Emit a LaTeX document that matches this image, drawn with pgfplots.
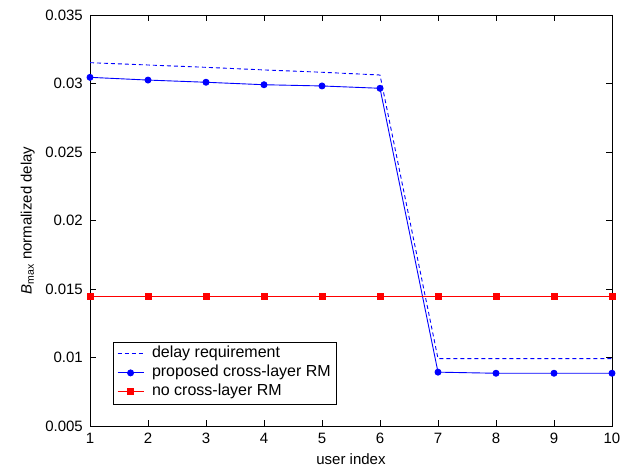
\documentclass[border=0pt]{standalone}
\usepackage{fontspec}
\setmainfont{Liberation Sans}
\usepackage{pgfplots}
\pgfplotsset{compat=1.18}
\definecolor{mblue}{RGB}{0,0,255}
\definecolor{mred}{RGB}{255,0,0}
\begin{document}
\begin{tikzpicture}[font=\fontsize{15}{18}\selectfont]
\begin{axis}[name=ax, scale only axis, width=522pt, height=411pt,
  xmin=1, xmax=10, ymin=0.005, ymax=0.035,
  xtick={1,2,3,4,5,6,7,8,9,10},
  ytick={0.005,0.01,0.015,0.02,0.025,0.03,0.035},
  yticklabels={0.005,0.01,0.015,0.02,0.025,0.03,0.035},
  scaled y ticks=false,
  /pgf/number format/assume math mode=true,
  tick label style={font=\fontsize{15}{18}\selectfont},
  xticklabel style={inner sep=0pt, yshift=-7pt},
  yticklabel style={inner sep=0pt, xshift=-7pt},
  tick align=inside, major tick length=6pt,
  tick style={black, line width=0.7pt},
  axis line style={black, line width=0.8pt},
  xlabel={user index},
  xlabel style={at={(axis description cs:0.5,-0.0665)}, anchor=north, inner sep=0pt},
  ylabel={{\itshape B}\textsubscript{max} normalized delay},
  ylabel style={at={(axis description cs:-0.1054,0.5)}, anchor=south, inner sep=0pt},
  legend style={at={(0.0435,0.0528)}, anchor=south west, draw=black, line width=0.8pt,
    fill=white, inner xsep=4pt, inner ysep=3pt,
    font=\fontsize{16}{19}\selectfont,
    nodes={inner sep=2pt, text height=11pt, text depth=3pt}, row sep=1pt, column sep=6pt},
  legend cell align=left,
  legend image code/.code={\draw[mark repeat=2,mark phase=2,#1] plot coordinates {(0pt,0pt) (13pt,0pt) (26pt,0pt)};},
]
\addplot[mblue, line width=0.9pt, dash pattern=on 4pt off 3pt] coordinates {
(1,0.03152) (2,0.03135) (3,0.03118) (4,0.03099) (5,0.03082) (6,0.03062)
(7,0.00992) (8,0.00992) (9,0.00992) (10,0.00992)};
\addlegendentry{delay requirement}
\addplot[mblue, line width=0.9pt, mark=*, mark size=3pt, mark options={solid, fill=mblue}] coordinates {
(1,0.03045) (2,0.03025) (3,0.03009) (4,0.02991) (5,0.02982) (6,0.02965)
(7,0.00893) (8,0.00885) (9,0.00885) (10,0.00885)};
\addlegendentry{proposed cross-layer RM}
\addplot[mred, line width=0.9pt, mark=square*, mark size=3pt, mark options={solid, fill=mred}] coordinates {
(1,0.01447) (2,0.01447) (3,0.01447) (4,0.01447) (5,0.01447) (6,0.01447)
(7,0.01447) (8,0.01447) (9,0.01447) (10,0.01447)};
\addlegendentry{no cross-layer RM}
\end{axis}
\path ([shift={(-90pt,-44pt)}]ax.south west) rectangle ([shift={(20pt,15pt)}]ax.north east);
\end{tikzpicture}
\end{document}
